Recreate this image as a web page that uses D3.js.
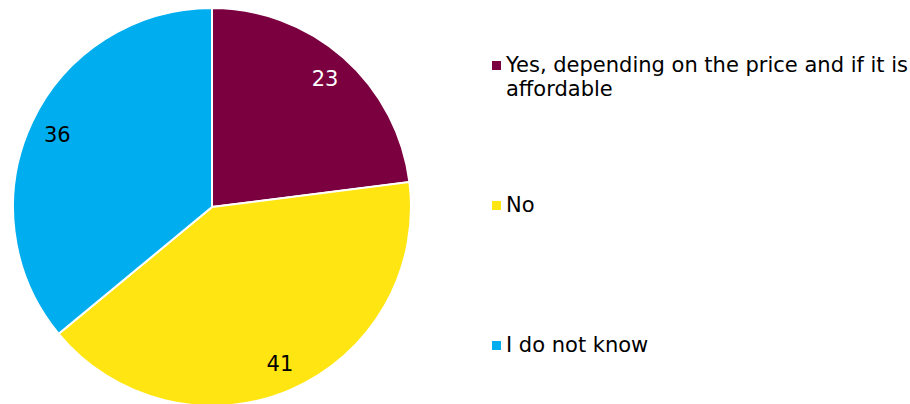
<!DOCTYPE html>
<html>
<head>
<meta charset="utf-8">
<script src="https://cdn.jsdelivr.net/npm/d3@7"></script>
<style>
  html, body { margin: 0; padding: 0; background: #fff; }
  svg { display: block; }
  text { font-family: "DejaVu Sans", Verdana, sans-serif; }
</style>
</head>
<body>
<svg id="chart" width="910" height="404"></svg>
<script>
// Survey answers and their shares (percent)
const categories = ["Yes, depending on the price and if it is affordable", "No", "I do not know"];
const values = [23, 41, 36];
const colors = ["#7B003F", "#FFE512", "#00AEEF"];
const labelColors = ["#ffffff", "#000000", "#000000"];
// Legend lines, wrapped as drawn
const legendLines = [["Yes, depending on the price and if it is", "affordable"], ["No"], ["I do not know"]];

const svg = d3.select("#chart");
const cx = 212, cy = 207, r = 199;

const pie = d3.pie().sort(null).value(d => d)(values);
const arc = d3.arc().innerRadius(0).outerRadius(r);
const labelArc = d3.arc().innerRadius(171).outerRadius(171);

const g = svg.append("g").attr("transform", `translate(${cx},${cy})`);

g.selectAll("path.slice")
  .data(pie)
  .join("path")
  .attr("class", "slice")
  .attr("d", arc)
  .attr("fill", (d, i) => colors[i])
  .attr("stroke", "#fff")
  .attr("stroke-width", 2);

g.selectAll("text.val")
  .data(pie)
  .join("text")
  .attr("class", "val")
  .attr("transform", d => `translate(${labelArc.centroid(d)})`)
  .attr("text-anchor", "middle")
  .attr("dy", "0.36em")
  .attr("font-size", 21)
  .attr("fill", (d, i) => labelColors[i])
  .text(d => d.data);

// Legend
const legendY = [72, 212, 352];
const legend = svg.append("g");
categories.forEach((c, i) => {
  const row = legend.append("g").attr("transform", `translate(492,${legendY[i]})`);
  row.append("rect")
    .attr("x", 0).attr("y", -11)
    .attr("width", 9).attr("height", 9)
    .attr("fill", colors[i]);
  const t = row.append("text")
    .attr("x", 14).attr("y", 0)
    .attr("font-size", 21)
    .attr("fill", "#000");
  legendLines[i].forEach((line, j) => {
    t.append("tspan").attr("x", 14).attr("dy", j === 0 ? 0 : 24).text(line);
  });
});
</script>
</body>
</html>
